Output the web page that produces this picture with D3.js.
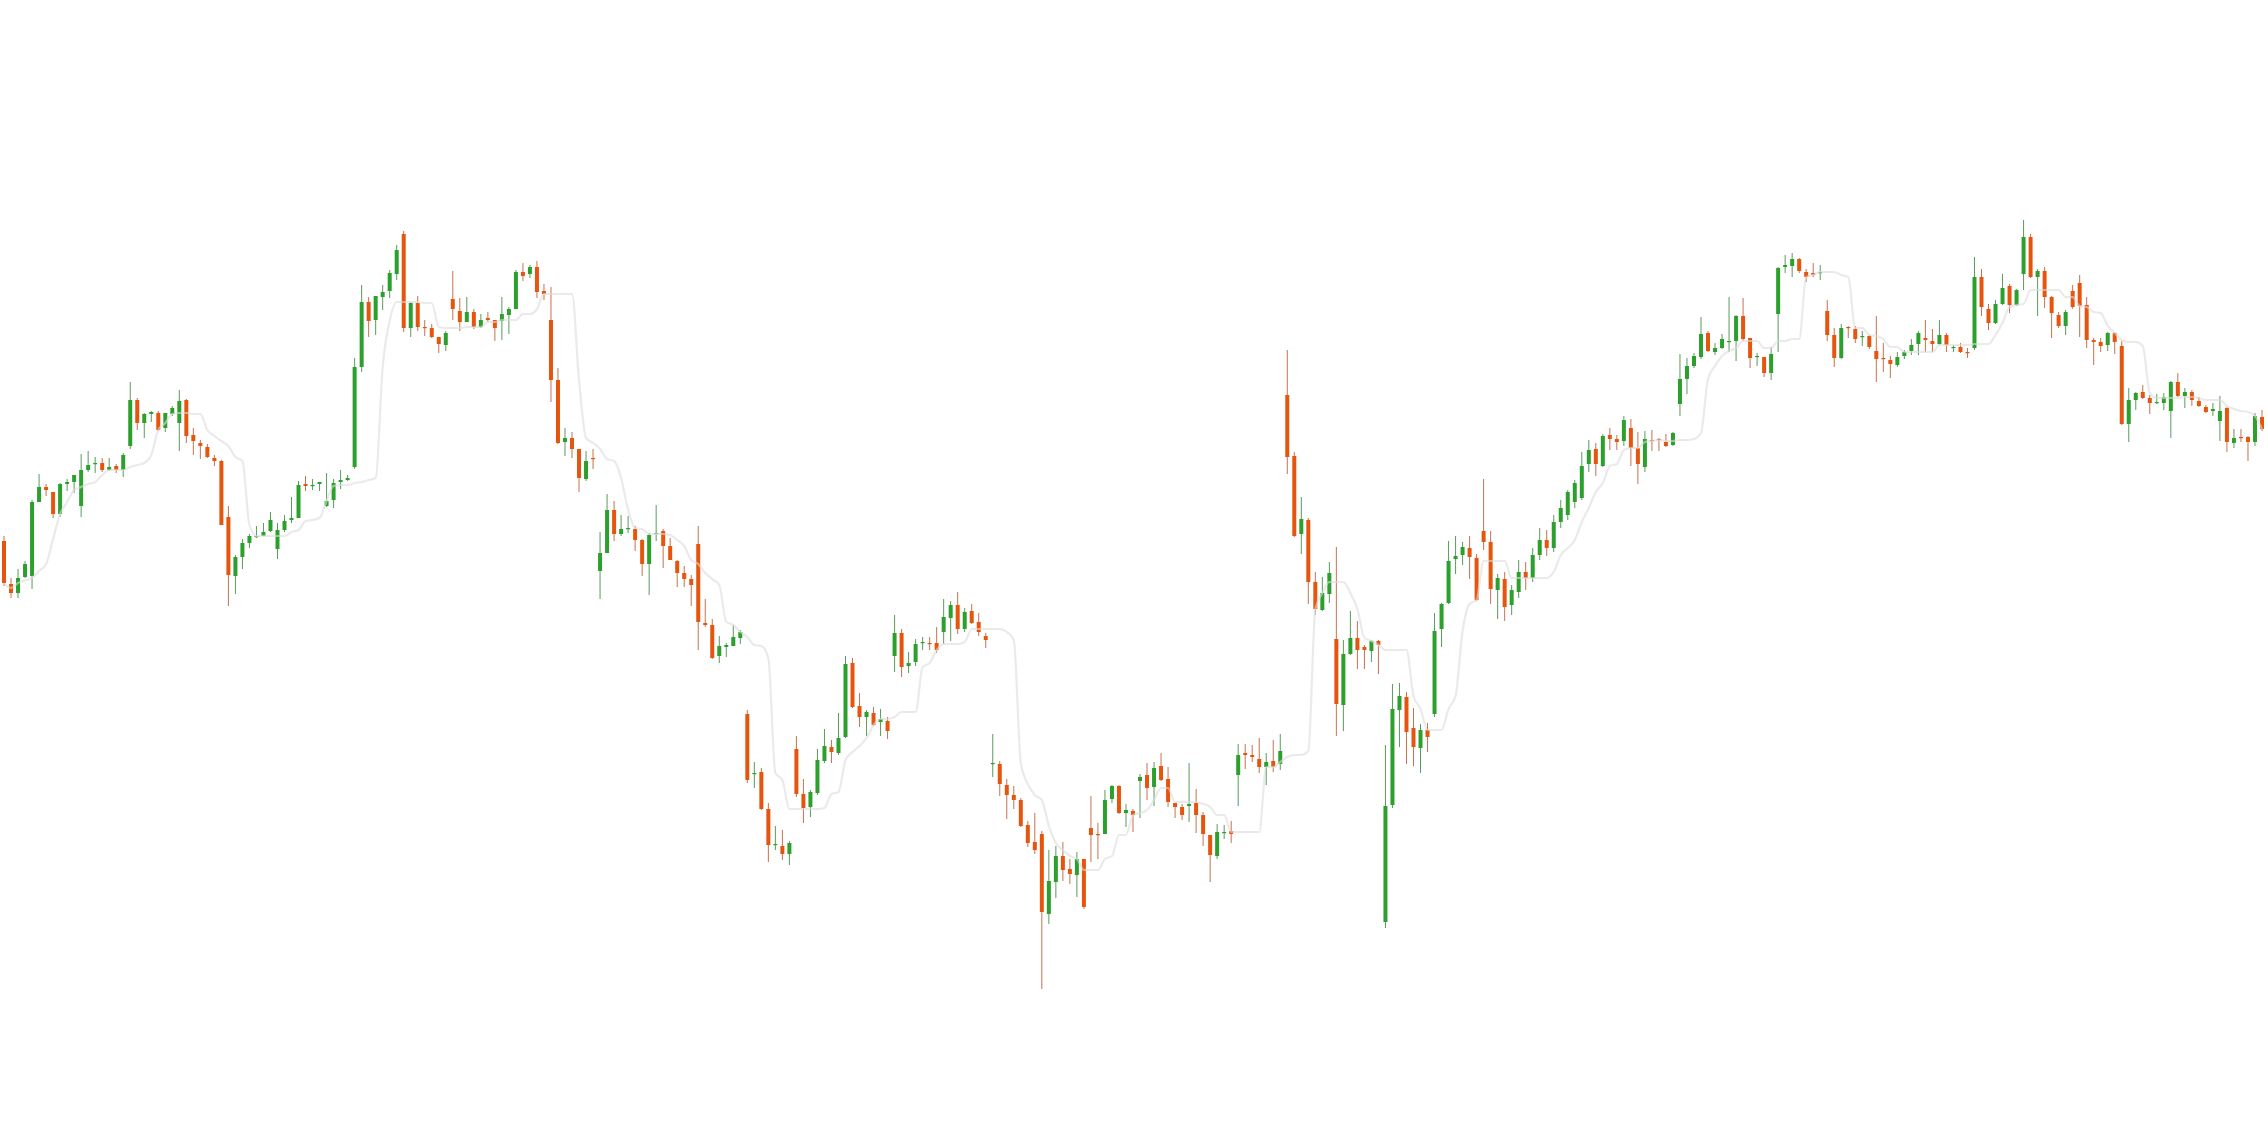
<!DOCTYPE html>
<html><head><meta charset="utf-8">
<script src="https://cdn.jsdelivr.net/npm/d3@7"></script>
<style>html,body{margin:0;padding:0;background:#fff;overflow:hidden}</style>
</head><body><svg id="chart" width="2268" height="1148"></svg>
<script>
const open=[60.7,56.4,55.5,57.1,57.2,64.6,66.1,65.6,63.4,66.4,
66.6,64.2,67.8,68.4,68.5,67.8,68.2,67.8,70.2,74.8,
72.5,73.4,73.5,72.0,73.4,72.5,74.8,71.3,70.5,70.1,
69.0,68.7,63.1,57.2,59.1,60.5,61.1,61.2,61.7,59.9,
61.8,62.8,63.0,66.4,66.2,66.4,64.2,64.8,66.6,66.8,
68.1,78.1,84.6,82.8,85.1,85.7,87.4,91.4,82.0,84.5,
82.1,82.0,81.1,80.3,84.9,83.7,82.6,83.6,82.1,83.0,
82.8,82.7,83.3,83.9,87.6,87.4,88.1,85.7,82.8,76.8,
70.6,71.0,69.9,66.9,69.0,57.7,59.5,63.8,61.4,61.9,
61.9,60.8,58.4,61.4,61.7,60.2,58.7,57.5,56.9,60.4,
52.5,52.3,49.2,50.1,50.2,51.0,43.4,37.4,37.6,33.9,
30.3,30.2,29.4,39.9,35.4,34.1,35.5,38.7,40.1,39.5,
41.1,48.5,44.2,43.1,43.5,42.6,42.7,49.2,51.5,48.2,
48.6,50.5,50.5,50.5,51.6,53.0,54.3,51.9,53.7,52.6,
51.2,38.4,38.4,36.3,35.3,34.8,32.3,30.6,31.4,23.4,
26.6,29.2,27.9,27.3,28.9,32.0,31.4,31.4,34.9,36.2,
33.5,33.7,36.7,37.3,36.1,38.2,36.9,34.5,34.1,34.2,
34.5,33.3,31.3,29.2,31.5,31.7,37.3,39.5,39.3,38.9,
38.1,38.7,38.4,75.3,69.2,61.4,62.8,56.6,53.8,55.4,
50.9,44.3,49.4,51.0,50.1,49.7,50.7,22.6,34.3,43.8,
45.1,42.0,40.0,41.8,43.4,51.9,54.5,58.9,59.3,60.0,
59.0,61.7,60.6,55.8,56.9,54.3,55.6,57.6,57.0,59.3,
60.8,60.0,62.6,63.3,64.6,65.0,68.4,69.9,68.2,71.3,
70.9,70.7,72.0,70.0,68.1,70.8,70.9,70.6,70.3,74.4,
76.9,78.2,79.1,81.5,79.6,80.0,80.6,80.7,83.2,81.0,
79.1,79.1,77.5,83.4,88.1,88.2,88.9,87.6,87.5,87.5,
83.7,81.3,79.0,82.1,81.9,81.1,81.2,79.7,79.0,78.8,
78.3,79.2,79.7,80.4,81.0,80.7,80.4,81.3,80.0,80.1,
79.6,80.0,87.1,83.9,82.5,84.4,86.2,84.3,87.4,91.1,
87.1,87.7,85.1,83.3,82.2,85.7,86.5,84.3,80.8,80.6,
80.3,81.5,80.2,72.4,74.8,75.6,75.0,74.5,74.5,73.7,
76.6,75.2,75.6,74.7,74.1,73.7,72.7,74.0,70.5,71.1,
71.1,70.6,73.1];
const high=[61.2,57.0,57.9,58.7,64.8,67.4,66.4,65.6,66.5,66.9,
67.3,69.4,69.7,69.1,69.0,69.0,68.4,69.5,76.6,75.0,
73.5,73.7,73.7,73.5,74.2,75.8,74.9,72.0,70.8,70.4,
69.3,68.8,64.2,59.3,60.9,61.4,62.2,62.5,63.6,62.5,
63.3,65.1,66.7,67.2,66.9,66.6,67.5,66.9,67.8,67.3,
79.0,86.3,85.1,85.2,86.3,87.8,90.3,91.7,84.6,85.2,
82.8,82.4,81.1,81.7,87.7,85.0,85.1,83.9,83.4,83.6,
82.8,85.1,84.1,87.8,88.5,88.3,88.7,86.4,86.1,78.0,
72.0,71.6,69.9,69.7,69.9,61.6,65.4,64.7,63.3,63.2,
62.2,60.9,61.5,64.3,61.9,61.0,58.8,58.2,57.3,62.2,
54.9,52.9,51.2,50.5,52.3,51.8,43.8,38.6,38.0,34.5,
32.2,31.8,30.7,41.2,36.9,35.8,39.9,41.9,40.8,43.5,
49.2,49.0,45.5,43.8,44.1,43.9,43.1,53.3,51.9,49.6,
50.9,51.1,51.1,52.1,54.9,54.7,55.6,54.0,54.4,53.5,
51.5,41.4,38.7,36.9,36.2,35.0,32.7,33.5,31.7,29.8,
30.2,30.6,28.9,29.6,28.9,35.2,32.5,35.8,36.3,36.3,
34.4,33.9,37.4,38.5,38.6,39.5,38.1,34.5,34.4,38.5,
35.9,33.6,31.3,32.4,32.3,32.7,40.4,40.4,40.3,41.0,
39.5,40.8,41.4,79.8,69.6,65.1,63.0,57.6,57.1,58.6,
60.1,50.8,53.7,52.7,50.3,50.8,50.8,40.3,46.4,46.5,
45.6,44.0,42.4,42.5,53.5,54.5,60.7,61.2,60.6,61.2,
59.4,66.9,61.7,57.4,57.6,56.3,58.8,58.6,60.0,62.0,
61.8,63.3,64.8,65.8,66.8,69.6,70.8,70.5,71.4,72.0,
71.3,73.2,72.9,71.6,71.7,71.8,71.0,71.4,71.6,79.4,
79.0,79.5,83.1,81.7,80.5,81.4,85.1,83.3,85.0,81.0,
79.5,79.1,80.1,88.1,89.3,89.5,89.0,87.9,88.5,88.3,
84.8,82.0,82.4,82.2,82.2,81.7,81.3,83.2,80.5,79.2,
79.6,79.8,80.9,81.7,82.8,81.9,82.8,81.5,80.3,80.5,
80.0,89.1,87.9,84.4,84.8,87.4,86.4,85.9,92.8,91.4,
87.9,88.1,85.2,83.6,83.8,86.3,87.3,85.1,81.0,81.0,
81.6,81.6,80.7,76.0,75.6,76.3,75.3,75.4,75.5,76.7,
77.5,76.0,75.8,75.1,74.3,74.5,75.2,74.1,71.9,71.9,
71.2,73.5,73.8];
const low=[56.2,55.0,55.0,57.0,55.9,64.6,65.2,63.0,63.1,65.7,
65.5,63.1,67.6,67.5,67.6,67.7,67.5,67.1,69.9,71.8,
71.0,72.6,71.7,71.6,73.2,69.7,70.5,69.3,68.9,69.0,
68.2,62.3,54.2,55.4,57.9,60.0,61.0,61.2,61.6,58.9,
61.6,62.5,63.0,65.7,65.8,65.7,64.1,64.0,65.9,66.7,
67.9,77.6,81.1,81.3,83.8,85.0,86.8,81.6,81.1,81.7,
81.2,81.0,79.5,79.7,82.8,81.7,82.6,81.9,82.0,82.6,
80.7,80.8,81.4,83.9,86.7,87.0,85.0,84.8,74.6,70.4,
69.2,69.0,65.6,66.7,67.9,54.9,59.5,60.7,61.2,61.5,
59.7,57.2,55.3,60.7,58.0,58.8,56.1,56.1,54.2,49.8,
52.1,48.9,48.5,49.1,50.2,50.4,36.5,36.0,33.8,28.6,
29.8,28.8,28.3,35.1,32.5,33.1,35.3,38.5,38.5,39.3,
41.0,44.0,42.1,41.2,42.2,41.2,40.9,47.6,47.1,47.5,
48.2,49.8,49.8,49.5,50.4,50.7,51.4,51.6,52.4,51.2,
50.0,37.1,35.2,32.9,33.9,32.1,30.1,29.4,15.9,22.4,
25.0,26.7,26.4,25.1,23.9,28.6,28.9,31.4,34.5,33.4,
32.1,31.6,33.0,34.8,34.2,36.7,34.1,33.0,32.8,32.6,
31.5,30.2,26.6,28.9,30.9,30.5,34.2,37.9,38.6,37.5,
36.3,37.6,37.8,67.4,61.1,59.4,54.4,53.3,53.7,54.5,
41.2,41.7,49.3,47.9,47.9,48.6,47.4,22.0,34.0,40.1,
38.4,38.2,37.5,39.6,43.1,50.1,54.4,57.4,58.3,56.9,
54.7,59.8,54.4,52.9,52.7,53.3,55.0,55.8,56.6,58.8,
59.2,59.6,62.0,62.8,64.0,64.8,67.6,67.2,68.1,69.8,
69.8,70.2,68.2,66.4,67.6,69.7,69.7,70.1,70.2,73.2,
75.4,78.0,78.9,79.6,79.3,79.9,79.6,78.7,80.7,78.0,
78.2,77.1,76.8,79.6,87.5,87.1,87.5,86.6,87.1,86.8,
80.7,78.1,78.9,81.0,80.5,80.2,79.9,76.6,77.6,77.0,
78.1,78.9,79.3,79.3,79.6,79.6,80.3,79.6,79.6,79.5,
79.0,79.8,83.2,81.8,82.4,84.3,83.5,84.2,85.8,87.0,
83.2,84.0,81.0,82.0,81.3,83.9,81.1,80.0,78.3,79.6,
79.7,79.4,72.3,70.6,73.8,74.9,73.4,74.4,73.8,71.0,
75.1,74.0,74.2,74.1,73.5,73.2,70.7,69.6,70.0,70.6,
68.7,70.2,71.7];
const close=[56.5,55.5,57.0,58.4,64.6,66.1,65.8,63.4,66.4,66.6,
67.3,67.8,68.3,68.5,67.8,68.1,67.8,69.3,74.8,72.5,
73.4,73.6,71.8,73.5,74.0,74.7,71.2,70.7,70.2,69.1,
68.7,62.3,57.3,59.1,60.5,61.2,61.2,61.6,62.8,61.8,
62.7,63.0,66.3,66.2,66.3,66.6,64.7,66.5,66.8,67.0,
78.1,84.6,82.7,85.2,85.6,87.5,89.8,82.0,84.5,82.1,
82.0,81.1,80.4,81.5,83.9,82.6,83.6,82.1,82.8,82.8,
82.0,83.4,83.9,87.6,87.2,88.1,85.6,85.4,76.8,70.5,
71.0,69.9,67.0,68.7,68.9,59.5,63.8,61.4,61.9,62.0,
60.8,58.4,61.3,61.5,60.2,58.8,57.5,56.9,56.3,52.6,
52.3,49.0,50.2,50.3,51.1,51.6,36.8,37.5,33.9,30.3,
30.4,29.4,30.5,35.4,34.0,35.6,38.8,40.2,39.6,41.0,
48.4,44.1,43.1,43.6,42.3,42.9,41.7,51.5,48.1,48.5,
50.4,50.6,50.4,49.8,53.1,54.3,51.9,53.6,52.5,51.6,
50.8,38.5,36.4,35.3,34.8,32.2,30.5,29.8,23.6,26.7,
29.2,27.8,27.4,28.9,24.1,31.3,31.3,34.8,36.2,33.5,
33.8,33.3,37.1,36.0,38.0,36.8,34.6,34.1,33.3,34.4,
33.3,31.4,29.3,31.6,31.6,31.4,39.3,39.3,39.1,38.1,
38.6,38.1,39.7,69.1,61.2,62.9,56.6,53.9,55.5,57.5,
44.4,49.4,51.0,49.8,49.8,50.7,50.3,34.2,43.9,45.2,
41.6,40.1,41.8,41.1,51.7,54.4,58.7,59.2,60.1,59.1,
54.8,60.6,55.9,57.0,54.1,55.8,57.6,57.0,59.3,60.8,
60.0,62.6,64.0,65.6,66.5,68.2,69.8,68.4,71.2,70.9,
70.6,72.8,70.0,68.4,70.9,70.7,70.8,70.2,71.5,76.9,
78.2,79.2,81.4,79.7,80.0,80.9,80.7,83.2,80.9,79.0,
79.2,77.5,79.4,88.0,88.3,88.9,87.7,87.1,87.3,87.6,
81.3,79.0,82.0,82.0,80.9,81.2,80.1,78.9,78.9,78.4,
79.1,79.6,80.3,81.5,80.8,80.4,81.3,80.3,80.1,79.6,
79.5,87.1,84.1,82.5,84.4,86.0,84.3,85.8,91.1,87.1,
87.7,85.1,83.5,82.2,83.6,84.1,84.2,80.8,80.6,80.2,
81.5,80.6,72.4,74.8,75.5,75.0,74.5,74.6,75.1,76.6,
75.2,75.6,74.8,74.2,73.6,73.9,73.7,70.6,71.0,71.0,
70.6,73.2,71.9];

const W = 2268, H = 1148;
const upColor = "#2ca02c", downColor = "#e6550d";
const upWick = "#5b9a5e", downWick = "#c8714f";
const medianWindow = 9;

const idx = d3.range(open.length);
const x = d3.scaleBand().domain(idx).range([0.5, 2265.5]).paddingInner(0.43).paddingOuter(0.215);
const y = d3.scaleLinear().domain([0, 114.8]).range([H, 0]);

const svg = d3.select("#chart");
const g = svg.append("g");

const candles = g.selectAll("g.c").data(idx).join("g").attr("class", "c");
const bw = x.bandwidth();
candles.append("line")
  .attr("x1", i => x(i) + bw / 2).attr("x2", i => x(i) + bw / 2)
  .attr("y1", i => y(high[i])).attr("y2", i => y(low[i]))
  .attr("stroke", i => close[i] >= open[i] ? upWick : downWick)
  .attr("stroke-width", 1);
candles.append("rect")
  .attr("x", i => x(i)).attr("width", bw)
  .attr("y", i => y(Math.max(open[i], close[i])))
  .attr("height", i => Math.max(1.2, Math.abs(y(open[i]) - y(close[i]))))
  .attr("fill", i => close[i] >= open[i] ? upColor : downColor);

// rolling median of closes (trailing window)
const med = idx.map(i => d3.median(close.slice(Math.max(0, i - medianWindow + 1), i + 1)));
const line = d3.line().x(i => x(i) + bw / 2).y(i => y(med[i])).curve(d3.curveMonotoneX);
g.append("path").datum(idx).attr("d", line)
  .attr("fill", "none").attr("stroke", "#dcdcdc").attr("stroke-opacity", 0.6)
  .attr("stroke-width", 2.2);
</script></body></html>
